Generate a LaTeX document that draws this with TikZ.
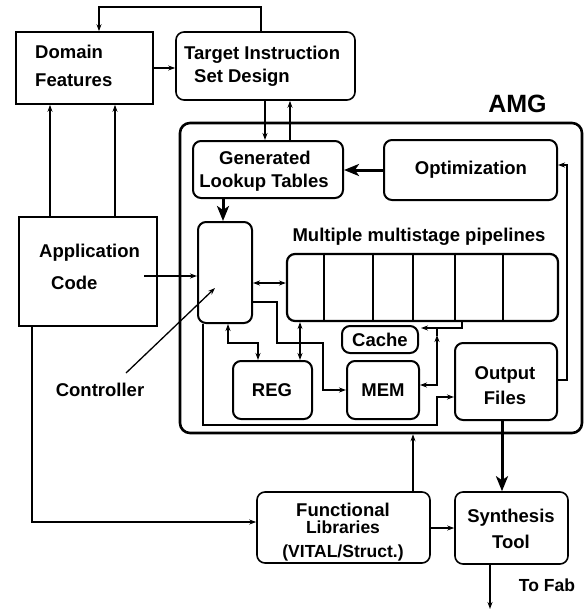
\documentclass[tikz,border=0pt]{standalone}
\usepackage{fontspec}
\setmainfont{Liberation Sans}
\usetikzlibrary{arrows.meta}
\begin{document}
\begin{tikzpicture}[x=1pt,y=-1pt,
  box/.style={draw,line width=1.6pt,inner sep=0pt},
  rbox/.style={box,rounded corners=8pt},
  txt/.style={inner sep=0pt,font=\fontsize{18.5}{22}\selectfont\bfseries},
  ltxt/.style={txt,anchor=west},
  conn/.style={line width=1.3pt},
  arr/.style={conn,-{Stealth[length=7pt,width=5pt]}},
  darr/.style={conn,{Stealth[length=7pt,width=5pt]}-{Stealth[length=7pt,width=5pt]}},
  thick arr/.style={line width=3pt,-{Stealth[length=15pt,width=12pt,inset=4pt]}}]
\useasboundingbox (0,0) rectangle (585,611);
% boxes
\node[box,minimum width=137pt,minimum height=72pt] (dom) at (84.5,68) {};
\node[rbox,minimum width=179pt,minimum height=68pt] (tgt) at (265.5,66) {};
\node[box,line width=2.6pt,rounded corners=10pt,minimum width=402pt,minimum height=310pt] (amg) at (381,278) {};
\node[rbox,line width=2pt,minimum width=150pt,minimum height=57pt] (gen) at (268,169.5) {};
\node[rbox,line width=2pt,minimum width=173pt,minimum height=60pt] (opt) at (470.5,170) {};
\node[rbox,line width=2pt,minimum width=54pt,minimum height=101pt] (ctl) at (225,272.5) {};
\node[rbox,line width=2.2pt,minimum width=271pt,minimum height=67pt] (pipe) at (422.5,287.5) {};
\node[rbox,line width=2pt,minimum width=76pt,minimum height=27pt] (cache) at (380,339.5) {};
\node[rbox,line width=2pt,minimum width=72pt,minimum height=58pt] (mem) at (383,390) {};
\node[rbox,line width=2pt,minimum width=79pt,minimum height=58pt] (reg) at (272.5,390) {};
\node[rbox,line width=2pt,minimum width=102pt,minimum height=77pt] (out) at (506,381.5) {};
\node[box,minimum width=138pt,minimum height=109pt] (app) at (88,271.5) {};
\node[rbox,minimum width=173pt,minimum height=71pt] (fun) at (343.5,527.5) {};
\node[rbox,minimum width=113pt,minimum height=72pt] (syn) at (511.5,528) {};
% pipeline dividers
\foreach \x in {324,373,413,455,503}
  \draw[line width=1.4pt] (pipe.north -| \x,0) -- (pipe.south -| \x,0);
% texts
\node[ltxt] (tdom1) at (35,52) {Domain};
\node[ltxt] (tdom2) at (35,80) {Features};
\node[ltxt] (ttgt1) at (184,55) {Target Instruction};
\node[ltxt] (ttgt2) at (194,78) {Set Design};
\node[txt,font=\fontsize{25}{28}\selectfont\bfseries] (tamg) at (517.5,104) {AMG};
\node[txt] (tgen1) at (265,158) {Generated};
\node[txt] (tgen2) at (264,183) {Lookup Tables};
\node[txt] (topt) at (471,170) {Optimization};
\node[txt] (tpipe) at (419,237) {Multiple multistage pipelines};
\node[txt] (tcache) at (380,340) {Cache};
\node[txt] (treg) at (272,390) {REG};
\node[txt] (tmem) at (383,390) {MEM};
\node[txt] (tout1) at (505,375) {Output};
\node[txt] (tout2) at (505,398) {Files};
\node[ltxt] (tapp1) at (39,253) {Application};
\node[ltxt] (tapp2) at (51,283) {Code};
\node[txt] (tctl) at (100,390) {Controller};
\node[txt] (tfun1) at (343,510) {Functional};
\node[txt,font=\fontsize{17.5}{20}\selectfont\bfseries] (tfun2) at (343,527) {Libraries};
\node[txt,font=\fontsize{17.5}{20}\selectfont\bfseries] (tfun3) at (343,553) {(VITAL/Struct.)};
\node[txt] (tsyn1) at (511,518) {Synthesis};
\node[txt] (tsyn2) at (511,542) {Tool};
\node[txt,font=\fontsize{17.5}{20}\selectfont\bfseries] (tfab) at (547,585) {To Fab};
% coordinates
\coordinate (fab) at (490,609);
\coordinate (appin) at (144,276);
\coordinate (ptr) at (126,373);
% connectors
\draw[arr] (tgt.north -| 261,0) -- (261,7) -- (99,7) -- (dom.north -| 99,0);
\draw[arr] (dom.east |- 0,68) -- (tgt.west |- 0,68);
\draw[arr] (app.north -| 50,0) -- (dom.south -| 50,0);
\draw[arr] (app.north -| 115,0) -- (dom.south -| 115,0);
\draw[arr] (tgt.south -| 265,0) -- (gen.north -| 265,0);
\draw[arr] (gen.north -| 290,0) -- (tgt.south -| 290,0);
\draw[thick arr] (opt.west) -- (gen.east |- opt.west);
\draw[thick arr] (gen.south -| 223,0) -- (ctl.north -| 223,0);
\draw[arr] (appin) -- (ctl.west |- appin);
\draw[darr] (ctl.east |- 0,283) -- (pipe.west |- 0,283);
\draw[arr] (ctl.east |- 0,302) -- (277,302) -- (277,343) -- (323,343) -- (323,390) -- (mem.west |- 0,390);
\draw[darr] (ctl.south -| 228,0) -- (228,343) -- (258,343) -- (reg.north -| 258,0);
\draw[darr] (pipe.south -| 300,0) -- (reg.north -| 300,0);
\draw[arr] (pipe.south -| 462,0) -- (462,328) -- (421,328);
\draw[darr] (mem.east |- 0,385) -- (437,385) -- (437,335);
\draw[conn] (437,336) -- (437,328);
\draw[arr] (ctl.south -| 203,0) -- (203,425) -- (437,425) -- (437,397) -- (out.west |- 0,397);
\draw[arr] (out.east |- 0,380) -- (567,380) -- (567,165) -- (opt.east |- 0,165);
\draw[thick arr] (out.south -| 502,0) -- (syn.north -| 502,0);
\draw[arr] (fun.north -| 413,0) -- (amg.south -| 413,0);
\draw[arr] (app.south -| 32,0) -- (32,522) -- (fun.west |- 0,522);
\draw[arr] (fun.east |- 0,528) -- (syn.west |- 0,528);
\draw[arr] (syn.south -| 490,0) -- (fab);
\draw[arr] (ptr) -- (215,288);
\end{tikzpicture}
\end{document}
